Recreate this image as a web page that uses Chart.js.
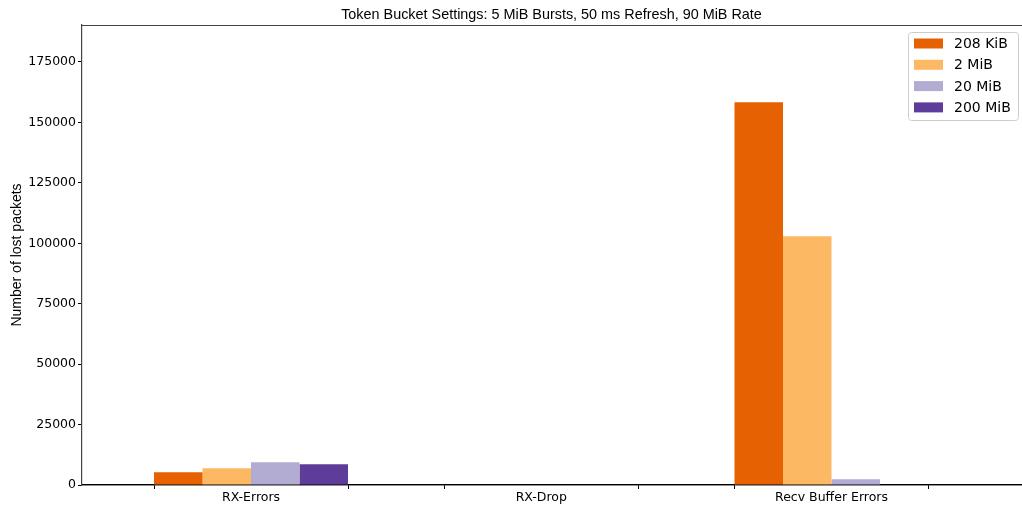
<!DOCTYPE html>
<html>
<head>
<meta charset="utf-8">
<script src="https://cdn.jsdelivr.net/npm/chart.js@4/dist/chart.umd.min.js"></script>
<style>
  html, body { margin: 0; padding: 0; background: #fff; }
  #wrap { width: 1022px; height: 505px; position: relative; }
</style>
</head>
<body>
<div id="wrap"><canvas id="c"></canvas></div>
<script>
// Lost packets per counter, one series per receive buffer size
const categories = ['RX-Errors', 'RX-Drop', 'Recv Buffer Errors'];
const bufferSizes = ['208 KiB', '2 MiB', '20 MiB', '200 MiB'];
const lost208KiB = [5250, 0, 158300];
const lost2MiB   = [6900, 0, 102900];
const lost20MiB  = [9400, 0, 2350];
const lost200MiB = [8560, 0, 0];
const yTickValues = [0, 25000, 50000, 75000, 100000, 125000, 150000, 175000];
const seriesColors = ['#e66101', '#fdb863', '#b2abd2', '#5e3c99'];

const series = [lost208KiB, lost2MiB, lost20MiB, lost200MiB];
const GROUP = 0.6684;          // share of a category slot taken by one group of bars
const HALF = GROUP / 2;
const X_MIN = -0.5823, X_MAX = 2.6529;

const datasets = series.map((vals, i) => ({
  label: bufferSizes[i],
  data: vals.map((v, k) => ({ x: k, y: v })),
  xAxisID: 'x',
  yAxisID: 'y',
  backgroundColor: seriesColors[i],
  borderWidth: 0,
  categoryPercentage: GROUP,
  barPercentage: 1.0
}));

// tick marks sit on the outer edges of each group, labels at group centres
const edgeTicks = [];
categories.forEach((c, k) => { edgeTicks.push(k - HALF, k + HALF); });
const centreTicks = categories.map((c, k) => k);

const framePlugin = {
  id: 'frame',
  afterDraw(chart) {
    const { ctx, chartArea: a } = chart;
    ctx.save();
    ctx.strokeStyle = '#444';
    ctx.lineWidth = 1.2;
    ctx.beginPath();
    ctx.moveTo(a.left, a.top + 0.5);
    ctx.lineTo(a.right + 2, a.top + 0.5);
    ctx.stroke();
    ctx.restore();
  }
};

const boxLegend = {
  id: 'boxLegend',
  afterDraw(chart) {
    const { ctx } = chart;
    const x0 = 908, y0 = 32.5, w = 110, h = 88;
    ctx.save();
    ctx.fillStyle = 'rgba(255,255,255,0.8)';
    ctx.strokeStyle = '#cccccc';
    ctx.lineWidth = 1;
    ctx.beginPath();
    ctx.roundRect(x0 + 0.5, y0, w, h, 3);
    ctx.fill();
    ctx.stroke();
    ctx.font = '14px "DejaVu Sans"';
    ctx.textBaseline = 'middle';
    chart.data.datasets.forEach((ds, i) => {
      const cy = 43.5 + i * 21.3;
      ctx.fillStyle = ds.backgroundColor;
      ctx.fillRect(914, cy - 5, 29, 10);
      ctx.fillStyle = '#000';
      ctx.fillText(ds.label, 954, cy + 1);
    });
    ctx.restore();
  }
};

new Chart(document.getElementById('c'), {
  type: 'bar',
  data: { datasets },
  plugins: [framePlugin, boxLegend],
  options: {
    responsive: true,
    maintainAspectRatio: false,
    animation: false,
    devicePixelRatio: 1,
    layout: { padding: { left: 0, right: 1, top: 0, bottom: 0 } },
    plugins: {
      legend: { display: false },
      tooltip: { enabled: false },
      title: {
        display: true,
        fullSize: false,
        text: 'Token Bucket Settings: 5 MiB Bursts, 50 ms Refresh, 90 MiB Rate',
        color: '#000',
        font: { family: '"Liberation Sans", Arial, sans-serif', size: 14.4, weight: 'normal', lineHeight: 1.2 },
        padding: { top: 6, bottom: 1.7 }
      }
    },
    scales: {
      x: {
        type: 'linear',
        position: 'bottom',
        weight: 2,
        min: X_MIN,
        max: X_MAX,
        offset: false,
        afterBuildTicks(scale) {
          scale.ticks = centreTicks.map(v => ({ value: v }));
        },
        afterFit(scale) { scale.height = 20; },
        grid: {
          offset: false,
          drawOnChartArea: false,
          drawTicks: true,
          tickLength: 4,
          tickColor: 'rgba(0,0,0,0)'
        },
        border: { display: true, color: '#000', width: 1.3 },
        ticks: {
          autoSkip: false,
          maxRotation: 0,
          padding: 1,
          color: '#000',
          font: { family: '"DejaVu Sans"', size: 12.5 },
          callback(value, index) { return categories[index]; }
        }
      },
      xEdges: {
        type: 'linear',
        position: 'bottom',
        weight: 1,
        min: X_MIN,
        max: X_MAX,
        offset: false,
        afterBuildTicks(scale) {
          scale.ticks = edgeTicks.map(v => ({ value: v }));
        },
        afterFit(scale) { scale.height = 0; },
        grid: {
          offset: false,
          drawOnChartArea: false,
          drawTicks: true,
          tickLength: 4,
          tickWidth: 1,
          tickColor: '#000'
        },
        border: { display: true, color: '#000', width: 1.3 },
        ticks: { display: false, autoSkip: false }
      },
      y: {
        type: 'linear',
        min: 0,
        max: 190300,
        afterBuildTicks(scale) {
          scale.ticks = yTickValues.map(v => ({ value: v }));
        },
        afterFit(scale) { scale.width = 82; },
        grid: {
          drawOnChartArea: false,
          drawTicks: true,
          tickLength: 4,
          tickColor: '#000'
        },
        border: { display: true, color: '#444', width: 1.2 },
        ticks: {
          padding: 2,
          color: '#000',
          font: { family: '"DejaVu Sans"', size: 12.5 },
          callback: v => String(v)
        },
        title: {
          display: true,
          text: 'Number of lost packets',
          color: '#000',
          font: { family: '"Liberation Sans", Arial, sans-serif', size: 14, lineHeight: 1.2 },
          padding: { top: 9, bottom: 0 }
        }
      }
    }
  }
});
</script>
</body>
</html>
